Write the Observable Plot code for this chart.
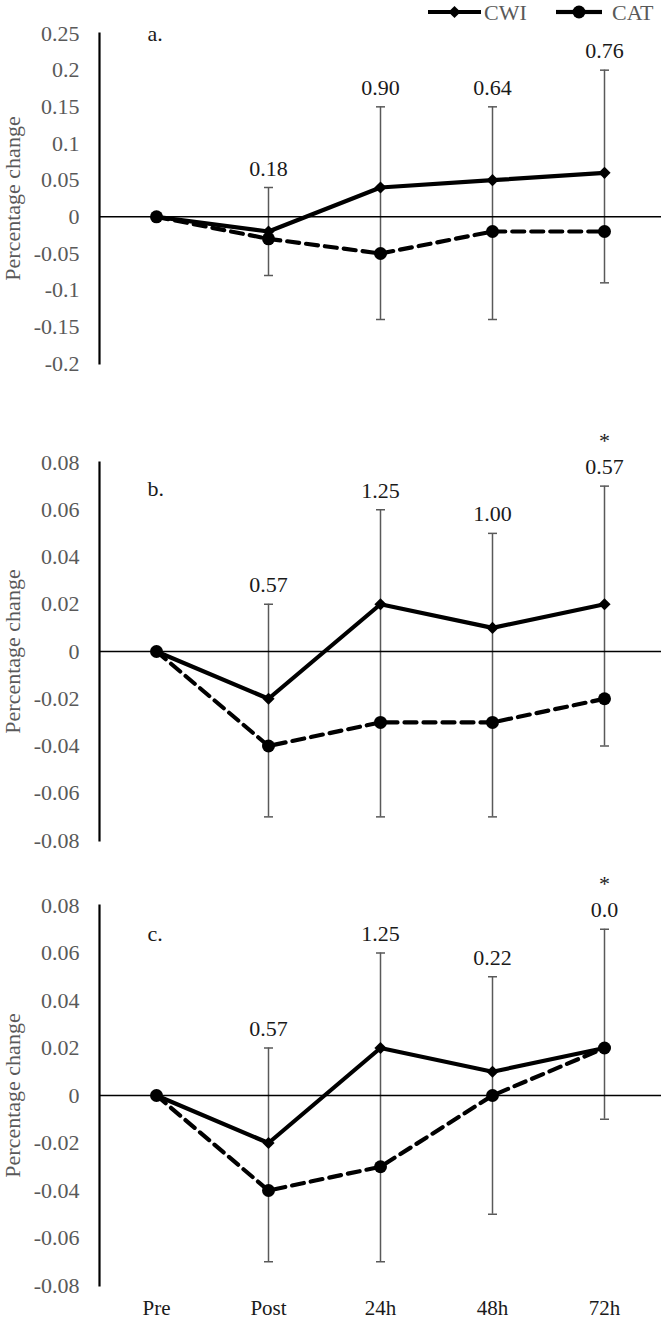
<!DOCTYPE html>
<html>
<head>
<meta charset="utf-8">
<script src="https://cdn.jsdelivr.net/npm/d3@7"></script>
<script src="https://cdn.jsdelivr.net/npm/@observablehq/plot@0.6"></script>
<style>
  html, body { margin: 0; padding: 0; background: #fff; }
  #wrap { position: relative; width: 664px; height: 1323px; overflow: hidden; font-family: "Liberation Serif", "Times New Roman", serif; }
  #wrap > .panel { position: absolute; left: 0; }
  #wrap svg, #wrap svg text { font-family: "Liberation Serif", "Times New Roman", serif !important; }
  #legend { position: absolute; left: 0; top: 0; }
</style>
</head>
<body>
<div id="wrap"></div>
<script>
// ---------- data ----------
const categories = ["Pre", "Post", "24h", "48h", "72h"];
const seriesNames = ["CWI", "CAT"];
const panelLetters = ["a.", "b.", "c."];

// panel a
const cwiA = [0, -0.02, 0.04, 0.05, 0.06];
const catA = [0, -0.03, -0.05, -0.02, -0.02];
const errTopA = [null, 0.04, 0.15, 0.15, 0.2];
const errBotA = [null, -0.08, -0.14, -0.14, -0.09];
const labelsA = ["", "0.18", "0.90", "0.64", "0.76"];
const starsA = ["", "", "", "", ""];
const ticksA = [-0.2, -0.15, -0.1, -0.05, 0, 0.05, 0.1, 0.15, 0.2, 0.25];

// panel b
const cwiB = [0, -0.02, 0.02, 0.01, 0.02];
const catB = [0, -0.04, -0.03, -0.03, -0.02];
const errTopB = [null, 0.02, 0.06, 0.05, 0.07];
const errBotB = [null, -0.07, -0.07, -0.07, -0.04];
const labelsB = ["", "0.57", "1.25", "1.00", "0.57"];
const starsB = ["", "", "", "", "*"];
const ticksB = [-0.08, -0.06, -0.04, -0.02, 0, 0.02, 0.04, 0.06, 0.08];

// panel c
const cwiC = [0, -0.02, 0.02, 0.01, 0.02];
const catC = [0, -0.04, -0.03, 0, 0.02];
const errTopC = [null, 0.02, 0.06, 0.05, 0.07];
const errBotC = [null, -0.07, -0.07, -0.05, -0.01];
const labelsC = ["", "0.57", "1.25", "0.22", "0.0"];
const starsC = ["", "", "", "", "*"];
const ticksC = [-0.08, -0.06, -0.04, -0.02, 0, 0.02, 0.04, 0.06, 0.08];

// ---------- drawing ----------
const FONT = "Liberation Serif, Times New Roman, serif";
const FS = 22;
const GRAY = "#595959";
const capSymbol = {
  draw(context) { context.moveTo(-4.5, 0); context.lineTo(4.5, 0); }
};

function panel(cfg) {
  const rows = categories.map((t, i) => ({
    t, cwi: cfg.cwi[i], cat: cfg.cat[i], top: cfg.top[i], bot: cfg.bot[i],
    label: cfg.labels[i], star: cfg.stars[i]
  }));
  const err = rows.filter(d => d.top != null);
  const marks = [
    Plot.ruleX(err, {x: "t", y1: "bot", y2: "top", stroke: GRAY, strokeWidth: 1.5}),
    Plot.dot(err, {x: "t", y: "top", symbol: capSymbol, r: 4, stroke: GRAY, strokeWidth: 1.5, fill: "none"}),
    Plot.dot(err, {x: "t", y: "bot", symbol: capSymbol, r: 4, stroke: GRAY, strokeWidth: 1.5, fill: "none"}),
    Plot.ruleY([0], {stroke: "black", strokeWidth: 1.5}),
    Plot.frame({anchor: "left", stroke: "black", strokeWidth: 2.2}),
    Plot.line(rows, {x: "t", y: "cat", stroke: "black", strokeWidth: 4.2, strokeDasharray: "12,7"}),
    Plot.dot(rows, {x: "t", y: "cat", r: 6.5, fill: "black", stroke: "none"}),
    Plot.line(rows, {x: "t", y: "cwi", stroke: "black", strokeWidth: 4.2}),
    Plot.dot(rows, {x: "t", y: "cwi", symbol: "diamond2", r: 5.5, fill: "black", stroke: "none"}),
    Plot.text(err, {x: "t", y: "top", text: "label", dy: -19, fontSize: FS, fontFamily: FONT, fill: "#1a1a1a"}),
    Plot.text(err.filter(d => d.star), {x: "t", y: "top", text: "star", dy: -38, lineAnchor: "bottom", fontSize: FS, fontFamily: FONT, fill: "#1a1a1a"}),
    Plot.text([cfg.letter], {frameAnchor: "top-left", lineAnchor: "middle", text: d => d, dx: 48, dy: cfg.letterDy,
      textAnchor: "start", fontSize: FS, fontFamily: FONT, fill: "#1a1a1a"}),
    Plot.axisY({ticks: cfg.ticks, tickFormat: d => String(d), tickSize: 0, tickPadding: 20, fontSize: FS, fontFamily: FONT, color: GRAY,
      label: "Percentage change", labelArrow: "none", labelAnchor: "center", labelOffset: 95})
  ];
  if (cfg.showX) marks.push(Plot.axisX({tickSize: 0, tickPadding: 15, fontSize: 21, fontFamily: FONT, color: "#1a1a1a", label: null}));
  return Plot.plot({
    width: 664,
    height: cfg.height,
    marginLeft: 99,
    marginRight: 3,
    marginTop: cfg.marginTop,
    marginBottom: cfg.marginBottom,
    style: {fontFamily: FONT, fontSize: FS + "px", background: "transparent", overflow: "visible"},
    x: {type: "point", domain: categories, padding: 0.5, axis: cfg.showX ? undefined : null},
    y: {domain: cfg.domain},
    marks
  });
}

const wrap = document.getElementById("wrap");
const specs = [
  {top: 0, height: 373, marginTop: 33, marginBottom: 10, domain: [-0.2, 0.25], ticks: ticksA,
   cwi: cwiA, cat: catA, topArr: errTopA, botArr: errBotA, labels: labelsA, stars: starsA, letter: panelLetters[0], letterDy: 0, showX: false},
  {top: 420, height: 425, marginTop: 42, marginBottom: 5, domain: [-0.08, 0.08], ticks: ticksB,
   cwi: cwiB, cat: catB, topArr: errTopB, botArr: errBotB, labels: labelsB, stars: starsB, letter: panelLetters[1], letterDy: 26, showX: false},
  {top: 860, height: 463, marginTop: 45, marginBottom: 38, domain: [-0.08, 0.08], ticks: ticksC,
   cwi: cwiC, cat: catC, topArr: errTopC, botArr: errBotC, labels: labelsC, stars: starsC, letter: panelLetters[2], letterDy: 28, showX: true}
];
for (const s of specs) {
  const chart = panel({...s, top: s.topArr, bot: s.botArr});
  chart.classList.add("panel");
  chart.style.top = s.top + "px";
  wrap.appendChild(chart);
}

// ---------- legend ----------
const ns = "http://www.w3.org/2000/svg";
const leg = document.createElementNS(ns, "svg");
leg.setAttribute("id", "legend");
leg.setAttribute("width", 664);
leg.setAttribute("height", 26);
const legItems = [
  {name: seriesNames[0], x1: 428, x2: 481, text: 484, sym: "diamond"},
  {name: seriesNames[1], x1: 556, x2: 602, text: 612, sym: "circle"}
];
const cy = 12;
for (const it of legItems) {
  const mid = (it.x1 + it.x2) / 2;
  if (it.sym === "diamond") {
    const l = document.createElementNS(ns, "line");
    l.setAttribute("x1", it.x1); l.setAttribute("x2", it.x2);
    l.setAttribute("y1", cy); l.setAttribute("y2", cy);
    l.setAttribute("stroke", "black"); l.setAttribute("stroke-width", 4.2);
    leg.appendChild(l);
    const p = document.createElementNS(ns, "path");
    p.setAttribute("d", d3.symbol(d3.symbolDiamond2, Math.PI * 5.5 * 5.5)());
    p.setAttribute("transform", `translate(${mid},${cy})`);
    leg.appendChild(p);
  } else {
    for (const [a, b] of [[it.x1, mid - 4], [mid + 4, it.x2]]) {
      const l = document.createElementNS(ns, "line");
      l.setAttribute("x1", a); l.setAttribute("x2", b);
      l.setAttribute("y1", cy); l.setAttribute("y2", cy);
      l.setAttribute("stroke", "black"); l.setAttribute("stroke-width", 4.2);
      leg.appendChild(l);
    }
    const c = document.createElementNS(ns, "circle");
    c.setAttribute("cx", mid); c.setAttribute("cy", cy); c.setAttribute("r", 6.5);
    leg.appendChild(c);
  }
  const t = document.createElementNS(ns, "text");
  t.setAttribute("x", it.text); t.setAttribute("y", cy);
  t.setAttribute("dy", "0.35em");
  t.setAttribute("fill", GRAY);
  t.setAttribute("font-family", FONT);
  t.setAttribute("font-size", FS);
  t.textContent = it.name;
  leg.appendChild(t);
}
wrap.appendChild(leg);
</script>
</body>
</html>
